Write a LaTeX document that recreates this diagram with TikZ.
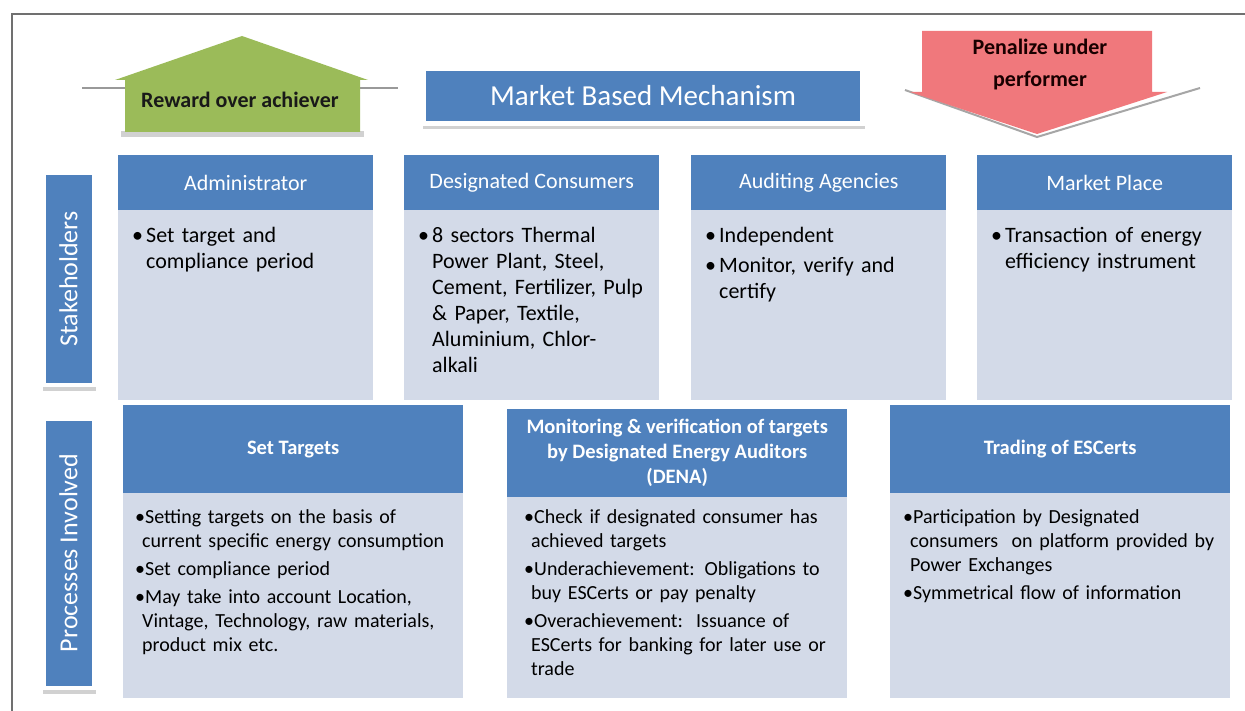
\documentclass[tikz,border=0pt]{standalone}
\usepackage{fontspec}
\setmainfont{Carlito}
\definecolor{hblue}{HTML}{4F81BD}
\definecolor{bblue}{HTML}{D3DAE8}
\definecolor{agreen}{HTML}{9BBB59}
\definecolor{ared}{HTML}{F0787C}
\definecolor{framegray}{HTML}{707070}
\newcommand{\ubul}[1]{\par\raggedright\hangindent=14pt\hangafter=1\noindent\makebox[14pt][l]{\textbullet}#1\par}
\newcommand{\lbul}[1]{\par\raggedright\hangindent=7pt\hangafter=1\noindent\textbullet#1\par}
\begin{document}
\begin{tikzpicture}[x=1pt,y=-1pt,
  hdr/.style={fill=hblue, text=white, inner sep=0pt, anchor=north west, align=center},
  uhdr/.style={hdr, minimum width=255pt, minimum height=55pt, font=\fontsize{22}{26}\selectfont},
  lhdr/.style={hdr, minimum width=340pt, minimum height=88pt, font=\bfseries\fontsize{20.5}{25}\selectfont},
  bodybox/.style={fill=bblue, inner sep=0pt, anchor=north west},
  ubody/.style={bodybox, minimum width=255pt, minimum height=190pt},
  lbody/.style={bodybox, minimum width=340pt, minimum height=205pt},
  utext/.style={anchor=base west, inner sep=0pt, text width=240pt, text=black, font=\fontsize{22}{26}\selectfont},
  ltext/.style={anchor=base west, inner sep=0pt, text width=330pt, text=black, font=\fontsize{20}{24}\selectfont},
  lbl/.style={fill=hblue, draw=white, line width=4pt, text=white, inner sep=0pt, rotate=90, font=\fontsize{26}{30}\selectfont},
  shade/.style={fill=black!18},
]
\useasboundingbox (0,0) rectangle (1245,711);
\fill[white] (0,0) rectangle (1245,711);
% frame
\draw[framegray, line width=2pt] (12,711) -- (12,14) -- (1245,14);

% green reward arrow
\draw[black!40, line width=2pt] (82,88) -- (398,88);
\fill[shade] (121,131) rectangle (364,137);
\fill[agreen] (125,132) -- (125,80) -- (115,80) -- (242,36) -- (368,80) -- (360,80) -- (360,132) -- cycle;
\node[font=\bfseries\fontsize{22}{26}\selectfont, text=black!90, inner sep=0pt] (reward) at (240,100) {Reward over achiever};

% red penalize arrow
\draw[black!35, line width=2pt] (905,90) -- (1037,137) -- (1200,88);
\fill[ared] (922,31) -- (1152,31) -- (1152,92) -- (1167,92) -- (1037,134) -- (910,92) -- (922,92) -- cycle;
\node[font=\bfseries\fontsize{22}{32}\selectfont, text=black!90!red, align=center, inner sep=0pt] (penal) at (1040,65) {Penalize under\\performer};

% market based mechanism
\fill[shade] (423,122) rectangle (865,129);
\node[fill=hblue, draw=white, line width=5pt, text=white, inner sep=0pt, minimum width=439pt, minimum height=55pt, font=\fontsize{29}{34}\selectfont] (mbm) at (643,96) {Market Based Mechanism};

% side labels
\fill[shade] (43,383) rectangle (96,391);
\node[lbl, minimum width=211pt, minimum height=50pt] (stake) at (68.5,279) {Stakeholders};
\fill[shade] (43,686) rectangle (96,694);
\node[lbl, minimum width=269pt, minimum height=50pt] (proc) at (68.5,553) {Processes Involved};

% upper stakeholder boxes
\node[ubody] (b1) at (118,210) {};
\node[uhdr] (h1) at (118,155) {Administrator};
\node[utext] (t1) at (132,217) {\ubul{Set target and\newline compliance period}};

\node[ubody] (b2) at (404,210) {};
\node[uhdr] (h2) at (404,155) {Designated Consumers};
\node[utext] (t2) at (418,217) {\ubul{8 sectors Thermal\newline Power Plant, Steel,\newline Cement, Fertilizer, Pulp\newline \& Paper, Textile,\newline Aluminium, Chlor-\newline alkali}};

\node[ubody] (b3) at (691,210) {};
\node[uhdr] (h3) at (691,155) {Auditing Agencies};
\node[utext] (t3) at (705,217) {\ubul{Independent}\vspace{4pt}\ubul{Monitor, verify and\newline certify}};

\node[ubody] (b4) at (977,210) {};
\node[uhdr] (h4) at (977,155) {Market Place};
\node[utext] (t4) at (991,217) {\ubul{Transaction of energy\newline efficiency instrument}};

% lower process boxes
\node[lbody] (p1) at (123,493) {};
\node[lhdr] (q1) at (123,405) {Set Targets};
\node[ltext] (s1) at (135,499) {\lbul{Setting targets on the basis of\newline current specific energy consumption}\vspace{4pt}\lbul{Set compliance period}\vspace{4pt}\lbul{May take into account Location,\newline Vintage, Technology, raw materials,\newline product mix etc.}};

\node[lbody] (p2) at (507,493) {};
\node[lhdr] (q2) at (507,409) {Monitoring \& verification of targets\\by Designated Energy Auditors\\(DENA)};
\node[ltext] (s2) at (524,499) {\lbul{Check if designated consumer has\newline achieved targets}\vspace{4pt}\lbul{Underachievement: Obligations to\newline buy ESCerts or pay penalty}\vspace{4pt}\lbul{Overachievement:\ \ Issuance of\newline ESCerts for banking for later use or\newline trade}};

\node[lbody] (p3) at (890,493) {};
\node[lhdr] (q3) at (890,405) {Trading of ESCerts};
\node[ltext] (s3) at (903,499) {\lbul{Participation by Designated\newline consumers\ \ on platform provided by\newline Power Exchanges}\vspace{4pt}\lbul{Symmetrical flow of information}};
\end{tikzpicture}
\end{document}
